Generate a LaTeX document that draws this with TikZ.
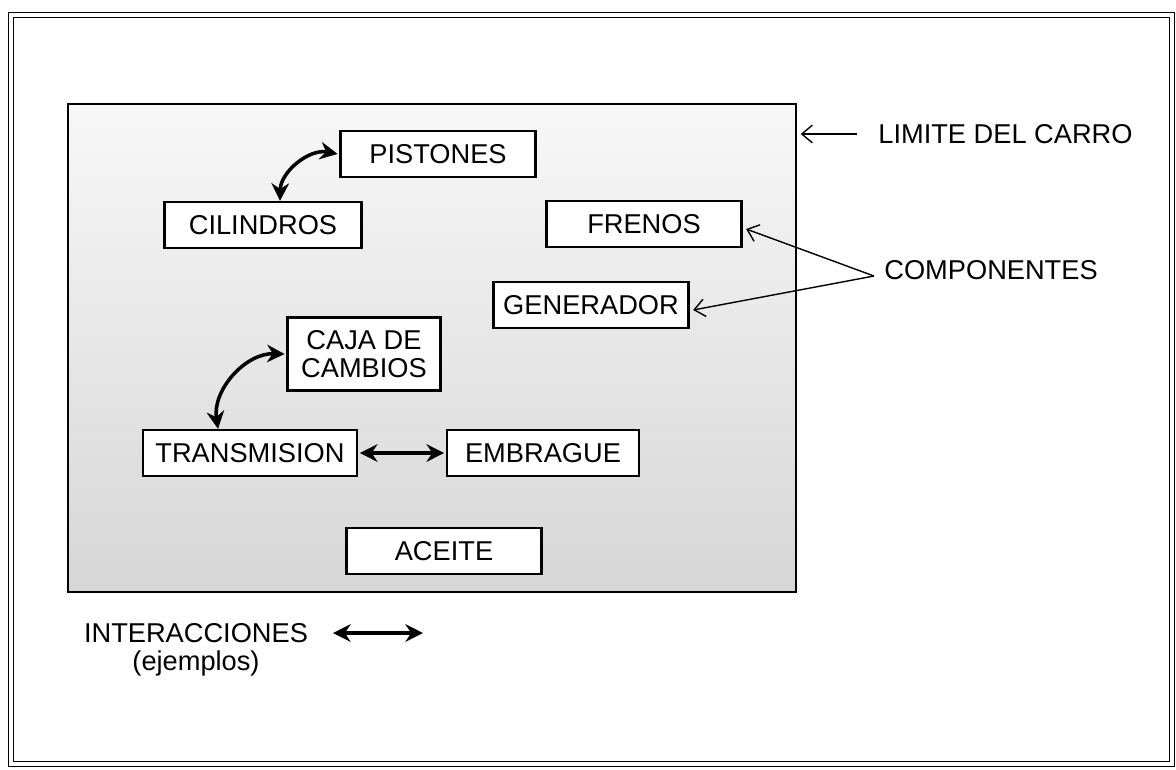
\documentclass[tikz,border=0pt]{standalone}
\usepackage{fontspec}
\setmainfont{Liberation Sans}
\usetikzlibrary{arrows.meta, positioning, calc}

\begin{document}
\begin{tikzpicture}[x=0.02cm, y=-0.02cm,
  comp/.style={draw, line width=1.3pt, fill=white, inner sep=0pt,
               minimum width=3.9cm, minimum height=0.92cm,
               font=\fontsize{15.5}{17}\selectfont, align=center},
  inter/.style={line width=2pt, {Stealth[length=10pt,width=10pt]}-{Stealth[length=10pt,width=10pt]}},
  pointer/.style={line width=0.8pt, -{Straight Barb[length=6pt,width=10pt]}},
  label/.style={font=\fontsize{15.5}{17}\selectfont, align=center, inner sep=0pt}
]
  \useasboundingbox (0,0) rectangle (1176,769);

  % outer frame
  \draw[double, double distance=1.8pt, line width=1pt] (11,15) rectangle (1172,764);

  % car boundary
  \node[draw, line width=1.4pt, inner sep=0pt, minimum width=14.56cm, minimum height=9.76cm,
        top color=gray!6, bottom color=gray!32] (car) at (432,348) {};

  % components
  \node[comp] (pis) at (438,154) {PISTONES};
  \node[comp, minimum width=3.94cm] (cil) at (263,225) {CILINDROS};
  \node[comp] (fre) at (644,224) {FRENOS};
  \node[comp] (gen) at (591,305) {GENERADOR};
  \node[comp, minimum width=3.06cm, minimum height=1.46cm, font=\fontsize{15.5}{15.5}\selectfont] (caja) at (364,354) {CAJA DE\\CAMBIOS};
  \node[comp, minimum width=4.28cm] (tra) at (250,453) {TRANSMISION};
  \node[comp, minimum width=3.84cm] (emb) at (543,453) {EMBRAGUE};
  \node[comp] (ace) at (444,551) {ACEITE};

  % interactions
  \draw[inter] ([xshift=0.34cm]cil.north) to[bend left=50] ([xshift=-1pt]pis.west);
  \draw[inter] ([xshift=-0.64cm]tra.north) to[bend left=50] ([xshift=-1pt]caja.west);
  \draw[inter] ([xshift=1pt]tra.east) -- ([xshift=-1pt]emb.west);

  % labels outside
  \node[label, anchor=west] (lim) at (878,134) {LIMITE DEL CARRO};
  \draw[pointer] ([xshift=-12pt]lim.west) -- ([xshift=2pt]lim.west -| car.east);

  \node[label, anchor=west] (com) at (884,270) {COMPONENTES};
  \coordinate (comtip) at (874,276);
  \draw[pointer] (comtip) -- ([xshift=2pt,yshift=-0.1cm]fre.east);
  \draw[pointer] (comtip) -- ([xshift=2pt,yshift=-0.1cm]gen.east);

  % legend
  \node[label] (int) at (196,633) {INTERACCIONES};
  \node[label, below=4pt of int] (ej) {(ejemplos)};
  \coordinate (legA) at (333,633);
  \coordinate (legB) at (423,633);
  \draw[inter] (legA) -- (legB);
\end{tikzpicture}
\end{document}
